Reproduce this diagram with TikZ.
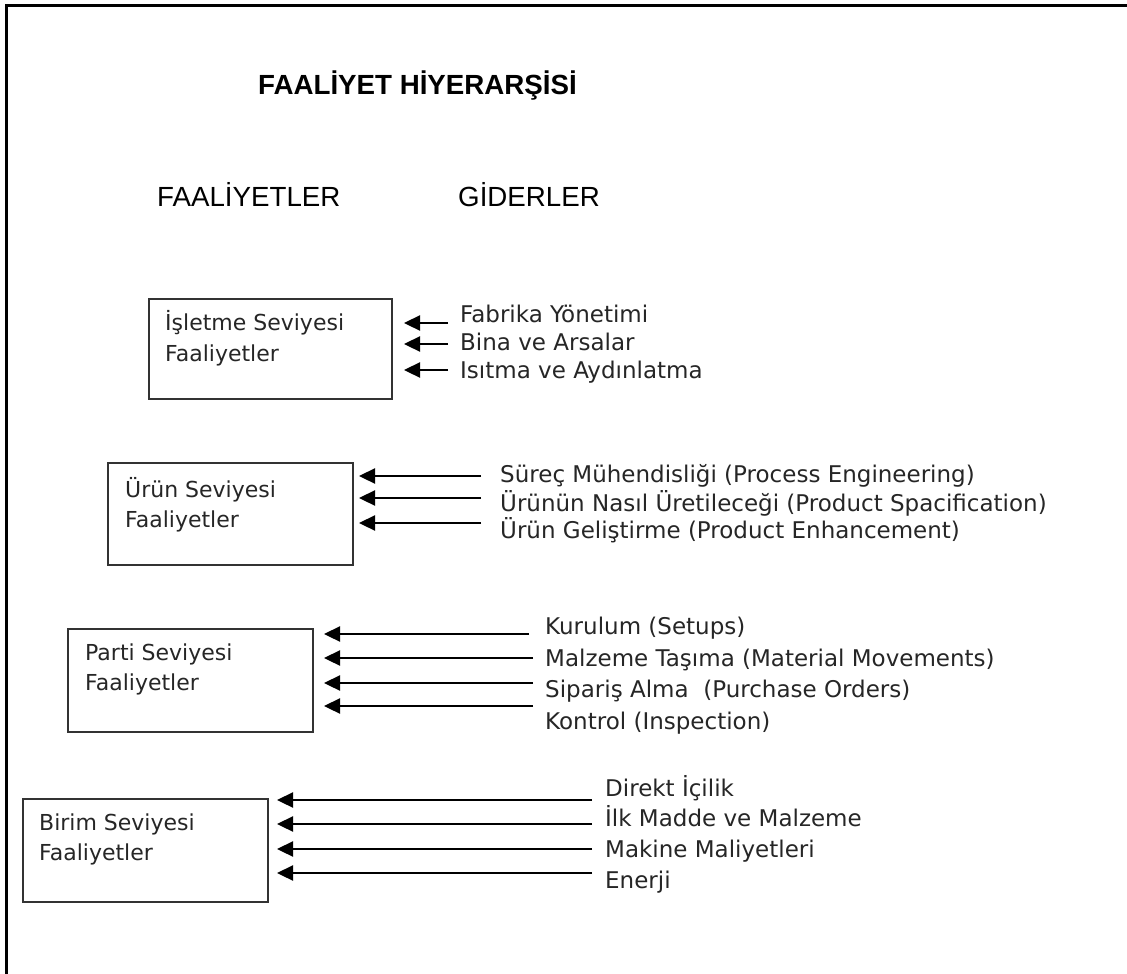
\documentclass[tikz,border=0pt]{standalone}
\usepackage{fontspec}
\setmainfont{Liberation Sans}
\newfontfamily\pixfont{DejaVu Sans}
\usetikzlibrary{arrows.meta}
\begin{document}
\begin{tikzpicture}[x=1pt,y=-1pt,
  frameline/.style={line width=3pt, line cap=rect},
  box/.style={draw=black!80, line width=2pt, anchor=north west, inner sep=0pt},
  boxtxt/.style={anchor=base west, inner sep=0pt, text=black!85, font=\pixfont\fontsize{22}{26}\selectfont},
  lbl/.style={anchor=base west, inner sep=0pt, text=black!85, font=\pixfont\fontsize{23}{27}\selectfont},
  arr/.style={line width=2.3pt, -{Triangle[length=16pt,width=15pt]}},
  head/.style={anchor=base west, inner sep=0pt, font=\fontsize{27.7}{32}\selectfont},
]
\useasboundingbox (0,0) rectangle (1127,974);
\fill[white] (0,0) rectangle (1127,974);

% frame (top and left only)
\coordinate (fbl) at (6,980);
\coordinate (ftl) at (6,6);
\coordinate (ftr) at (1135,6);
\draw[frameline] (fbl) -- (ftl) -- (ftr);

% headings
\node[head, font=\bfseries\fontsize{27.7}{32}\selectfont] (title) at (258,95) {FAALİYET HİYERARŞİSİ};
\node[head] (hfa) at (157,206) {FAALİYETLER};
\node[head] (hgi) at (458,206) {GİDERLER};

% ---- Box 1
\node[box, minimum width=243pt, minimum height=100pt] (b1) at (148,298) {};
\node[boxtxt] (b1a) at (165,330) {İşletme Seviyesi};
\node[boxtxt] (b1b) at (165,361) {Faaliyetler};
\node[lbl] (l11) at (460,322) {Fabrika Yönetimi};
\node[lbl] (l12) at (460,350) {Bina ve Arsalar};
\node[lbl] (l13) at (460,378) {Isıtma ve Aydınlatma};
\coordinate (t11) at (448,323);
\coordinate (t12) at (448,344);
\coordinate (t13) at (448,370);
\foreach \t in {t11,t12,t13}
  \draw[arr, shorten >=11pt] (\t) -- (b1.east |- \t);

% ---- Box 2
\node[box, minimum width=245pt, minimum height=102pt] (b2) at (107,462) {};
\node[boxtxt] (b2a) at (125,497) {Ürün Seviyesi};
\node[boxtxt] (b2b) at (125,527) {Faaliyetler};
\node[lbl] (l21) at (500,482) {Süreç Mühendisliği (Process Engineering)};
\node[lbl] (l22) at (500,511) {Ürünün Nasıl Üretileceği (Product Spacification)};
\node[lbl] (l23) at (500,538) {Ürün Geliştirme (Product Enhancement)};
\coordinate (t21) at (481,476);
\coordinate (t22) at (481,498);
\coordinate (t23) at (481,523);
\foreach \t in {t21,t22,t23}
  \draw[arr, shorten >=5pt] (\t) -- (b2.east |- \t);

% ---- Box 3
\node[box, minimum width=245pt, minimum height=103pt] (b3) at (67,628) {};
\node[boxtxt] (b3a) at (85,660) {Parti Seviyesi};
\node[boxtxt] (b3b) at (85,690) {Faaliyetler};
\node[lbl] (l31) at (545,634) {Kurulum (Setups)};
\node[lbl] (l32) at (545,666) {Malzeme Taşıma (Material Movements)};
\node[lbl] (l33) at (545,697) {Sipariş Alma\ \ (Purchase Orders)};
\node[lbl] (l34) at (545,729) {Kontrol (Inspection)};
\coordinate (t31) at (529,634);
\coordinate (t32) at (533,658);
\coordinate (t33) at (533,683);
\coordinate (t34) at (533,706);
\foreach \t in {t31,t32,t33,t34}
  \draw[arr, shorten >=10pt] (\t) -- (b3.east |- \t);

% ---- Box 4
\node[box, minimum width=245pt, minimum height=103pt] (b4) at (22,798) {};
\node[boxtxt] (b4a) at (39,830) {Birim Seviyesi};
\node[boxtxt] (b4b) at (39,860) {Faaliyetler};
\node[lbl] (l41) at (605,796) {Direkt İçilik};
\node[lbl] (l42) at (605,826) {İlk Madde ve Malzeme};
\node[lbl] (l43) at (605,857) {Makine Maliyetleri};
\node[lbl] (l44) at (605,888) {Enerji};
\coordinate (t41) at (592,800);
\coordinate (t42) at (592,824);
\coordinate (t43) at (592,849);
\coordinate (t44) at (592,873);
\foreach \t in {t41,t42,t43,t44}
  \draw[arr, shorten >=8pt] (\t) -- (b4.east |- \t);
\end{tikzpicture}
\end{document}
